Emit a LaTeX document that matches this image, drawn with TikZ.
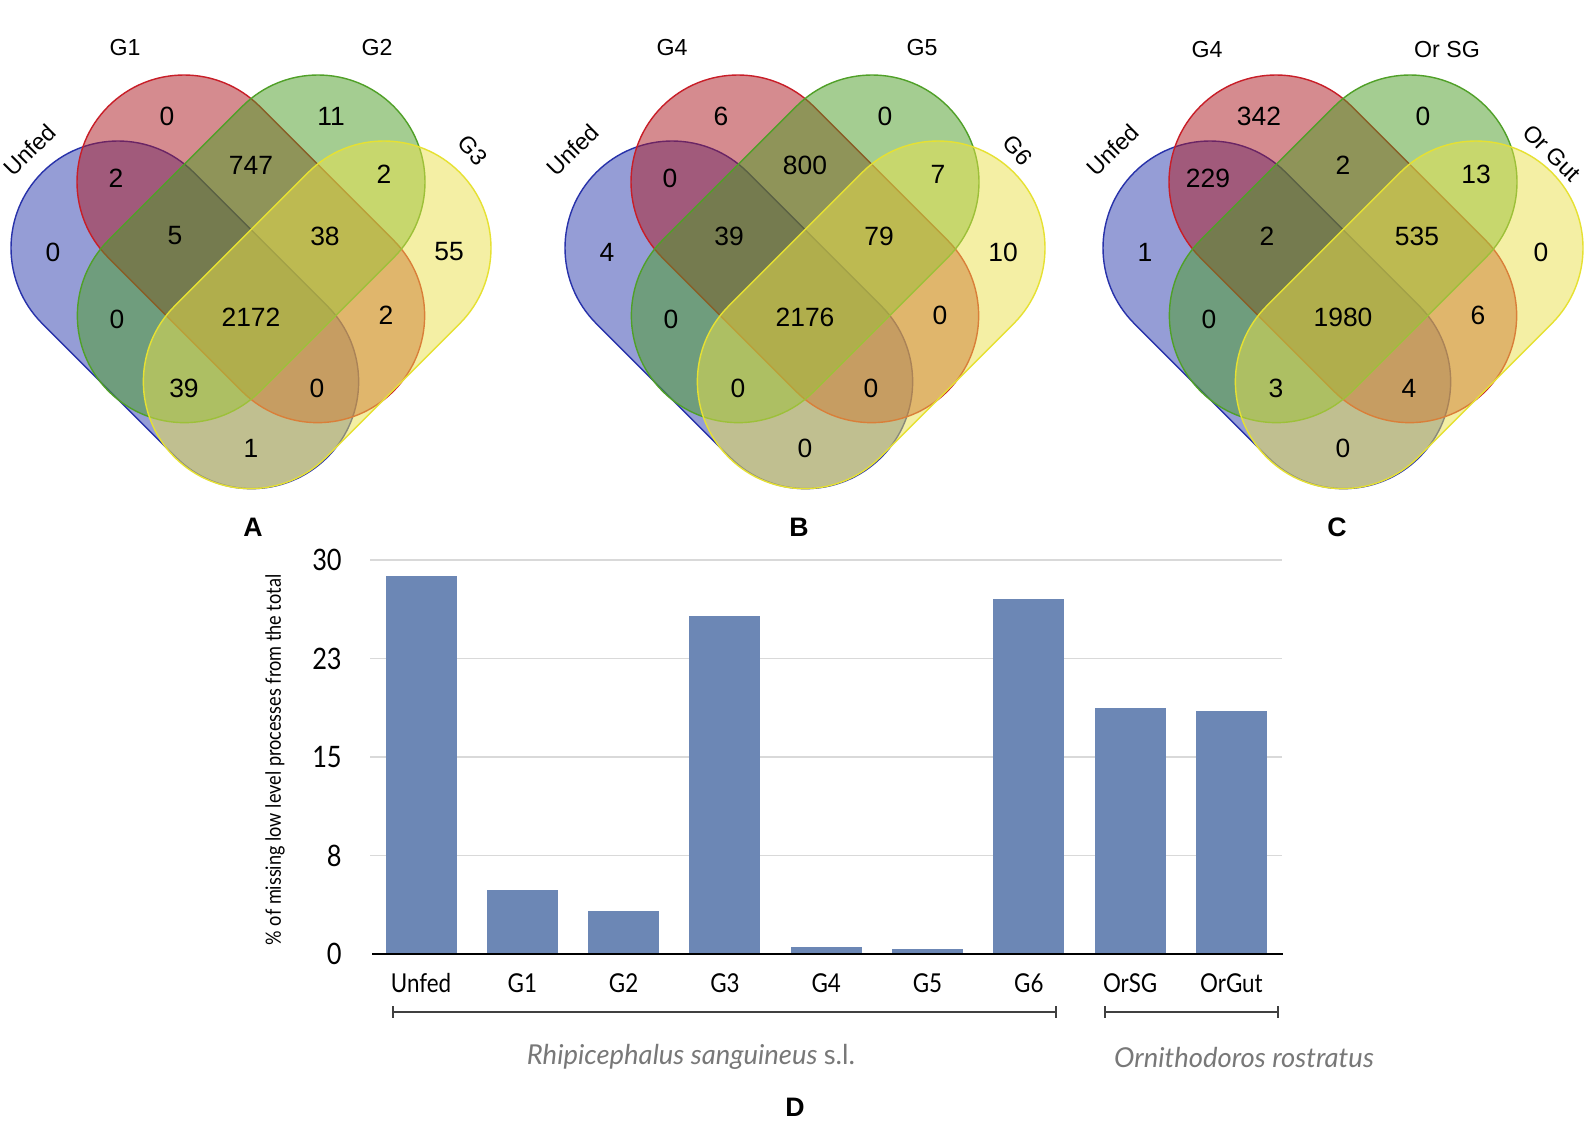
\documentclass[tikz,border=0pt]{standalone}
\usepackage{fontspec}
\setmainfont{Liberation Sans}
\newfontfamily\chartfont[FakeStretch=0.86]{Lato}
\newfontfamily\speciesfont{Lato}

\definecolor{unfedfill}{RGB}{45,61,175}
\definecolor{unfedline}{RGB}{40,50,170}
\definecolor{redfill}{RGB}{173,25,33}
\definecolor{redline}{RGB}{200,30,40}
\definecolor{greenfill}{RGB}{75,157,37}
\definecolor{greenline}{RGB}{80,160,40}
\definecolor{yellowfill}{RGB}{235,225,75}
\definecolor{yellowline}{RGB}{230,225,50}
\definecolor{barblue}{RGB}{108,135,181}
\definecolor{gridgray}{RGB}{217,217,217}
\definecolor{speciesgray}{RGB}{120,120,120}

% one set of the Venn diagram: style, first centre, direction
\newcommand{\capsule}[3]{%
  \path[#1, shift={#2}, rotate=#3] (0,-107) -- (189,-107)
    arc[start angle=-90, end angle=90, radius=107] -- (0,107)
    arc[start angle=90, end angle=270, radius=107] -- cycle;}

\begin{document}
\begin{tikzpicture}
  [x=0.25mm, y=-0.25mm,
   venn/.style={fill opacity=0.5, line width=1pt},
   bluefill/.style={fill=unfedfill, draw=unfedline},
   redset/.style={fill=redfill, draw=redline},
   greenset/.style={fill=greenfill, draw=greenline},
   yellowset/.style={fill=yellowfill, draw=yellowline},
   cnt/.style={font=\fontsize{18.8}{21}\selectfont, inner sep=0pt},
   setlab/.style={font=\fontsize{16.5}{18}\selectfont, inner sep=0pt},
   panel/.style={font=\fontsize{19}{22}\selectfont\bfseries, inner sep=0pt},
   grid/.style={draw=gridgray, line width=1pt},
   bar/.style={fill=barblue},
   tick/.style={font=\chartfont\fontsize{21}{23}\selectfont, anchor=east, inner sep=0pt},
   cat/.style={font=\chartfont\fontsize{18.5}{20}\selectfont, inner sep=0pt},
   species/.style={font=\speciesfont\fontsize{19.5}{22}\selectfont, text=speciesgray, inner sep=0pt},
   bracket/.style={draw=black!75, line width=1pt}]

  \useasboundingbox (0,0) rectangle (1588,1124);
  \fill[white] (0,0) rectangle (1588,1124);

  % A
  \begin{scope}[shift={(251,249)}]
    \capsule{venn, bluefill}{(-133,-1)}{-45}
    \capsule{venn, redset}{(-67,-67)}{-45}
    \capsule{venn, greenset}{(67,-67)}{-135}
    \capsule{venn, yellowset}{(133,-1)}{-135}
    \foreach \x/\y/\n [count=\k] in {-198/3/0, -84/-133/0, 80/-133/11, 198/3/55,
        -135/-71/2, 0/-84/747, 133/-75/2, -76/-13/5, 74/-13/38, -134/70/0,
        0/68/2172, 135/66/2, -67/139/39, 66/139/0, 0/199/1}
      \node[cnt] (a\k) at (\x,\y) {\n};
    \node[setlab, rotate=45] (aunfed) at (-221,-99) {Unfed};
    \node[setlab] (ag1) at (-126,-201) {G1};
    \node[setlab] (ag2) at (126,-201) {G2};
    \node[setlab, rotate=-50] (ag3) at (222,-99) {G3};
  \end{scope}

  % B
  \begin{scope}[shift={(805,249)}]
    \capsule{venn, bluefill}{(-133,-1)}{-45}
    \capsule{venn, redset}{(-67,-67)}{-45}
    \capsule{venn, greenset}{(67,-67)}{-135}
    \capsule{venn, yellowset}{(133,-1)}{-135}
    \foreach \x/\y/\n [count=\k] in {-198/3/4, -84/-133/6, 80/-133/0, 198/3/10,
        -135/-71/0, 0/-84/800, 133/-75/7, -76/-13/39, 74/-13/79, -134/70/0,
        0/68/2176, 135/66/0, -67/139/0, 66/139/0, 0/199/0}
      \node[cnt] (b\k) at (\x,\y) {\n};
    \node[setlab, rotate=45] (bunfed) at (-232,-99) {Unfed};
    \node[setlab] (bg4) at (-133,-201) {G4};
    \node[setlab] (bg5) at (117,-201) {G5};
    \node[setlab, rotate=-50] (bg6) at (213,-99) {G6};
  \end{scope}

  % C
  \begin{scope}[shift={(1343,249)}]
    \capsule{venn, bluefill}{(-133,-1)}{-45}
    \capsule{venn, redset}{(-67,-67)}{-45}
    \capsule{venn, greenset}{(67,-67)}{-135}
    \capsule{venn, yellowset}{(133,-1)}{-135}
    \foreach \x/\y/\n [count=\k] in {-198/3/1, -84/-133/342, 80/-133/0, 198/3/0,
        -135/-71/229, 0/-84/2, 133/-75/13, -76/-13/2, 74/-13/535, -134/70/0,
        0/68/1980, 135/66/6, -67/139/3, 66/139/4, 0/199/0}
      \node[cnt] (c\k) at (\x,\y) {\n};
    \node[setlab, rotate=45] (cunfed) at (-230,-99) {Unfed};
    \node[setlab] (cg4) at (-136,-199) {G4};
    \node[setlab] (csg) at (104,-199) {Or SG};
    \node[setlab, rotate=-45] (cgut) at (209,-96) {Or Gut};
  \end{scope}

  \node[panel] (pa) at (253,527) {A};
  \node[panel] (pb) at (799,527) {B};
  \node[panel] (pc) at (1337,527) {C};

  % D
  \foreach \t/\v in {8/7.5, 15/15, 23/22.5, 30/30} {
    \draw[grid] (370,954-13.133*\v) -- (1282,954-13.133*\v);
    \node[tick] (tick\t) at (342,954-13.133*\v) {\t};
  }
  \node[tick] (tick0) at (342,954) {0};
  \foreach \lab/\v [count=\i from 0] in {Unfed/28.78, G1/4.87, G2/3.27, G3/25.74,
      G4/0.53, G5/0.38, G6/27.03, OrSG/18.7, OrGut/18.5} {
    \fill[bar] (421+101.3*\i-35.5,954) rectangle (421+101.3*\i+35.5,954-13.133*\v);
    \node[cat] (cat\i) at (421+101.3*\i,983) {\lab};
  }
  \draw[line width=1.4pt] (372,954) -- (1283,954);

  \node[font=\chartfont\fontsize{15}{17}\selectfont, rotate=90, inner sep=0pt] (ytitle)
    at (275,760) {\% of missing low level processes from the total};

  \draw[bracket] (393,1006) -- (393,1018) (393,1012) -- (1056,1012) (1056,1006) -- (1056,1018);
  \draw[bracket] (1105,1006) -- (1105,1018) (1105,1012) -- (1278,1012) (1278,1006) -- (1278,1018);
  \node[species] (rhipi) at (691,1057) {\itshape Rhipicephalus sanguineus\/ \upshape s.l.};
  \node[species] (orni) at (1244,1057) {\itshape Ornithodoros rostratus};

  \node[panel] (pd) at (795,1107) {D};
\end{tikzpicture}
\end{document}
